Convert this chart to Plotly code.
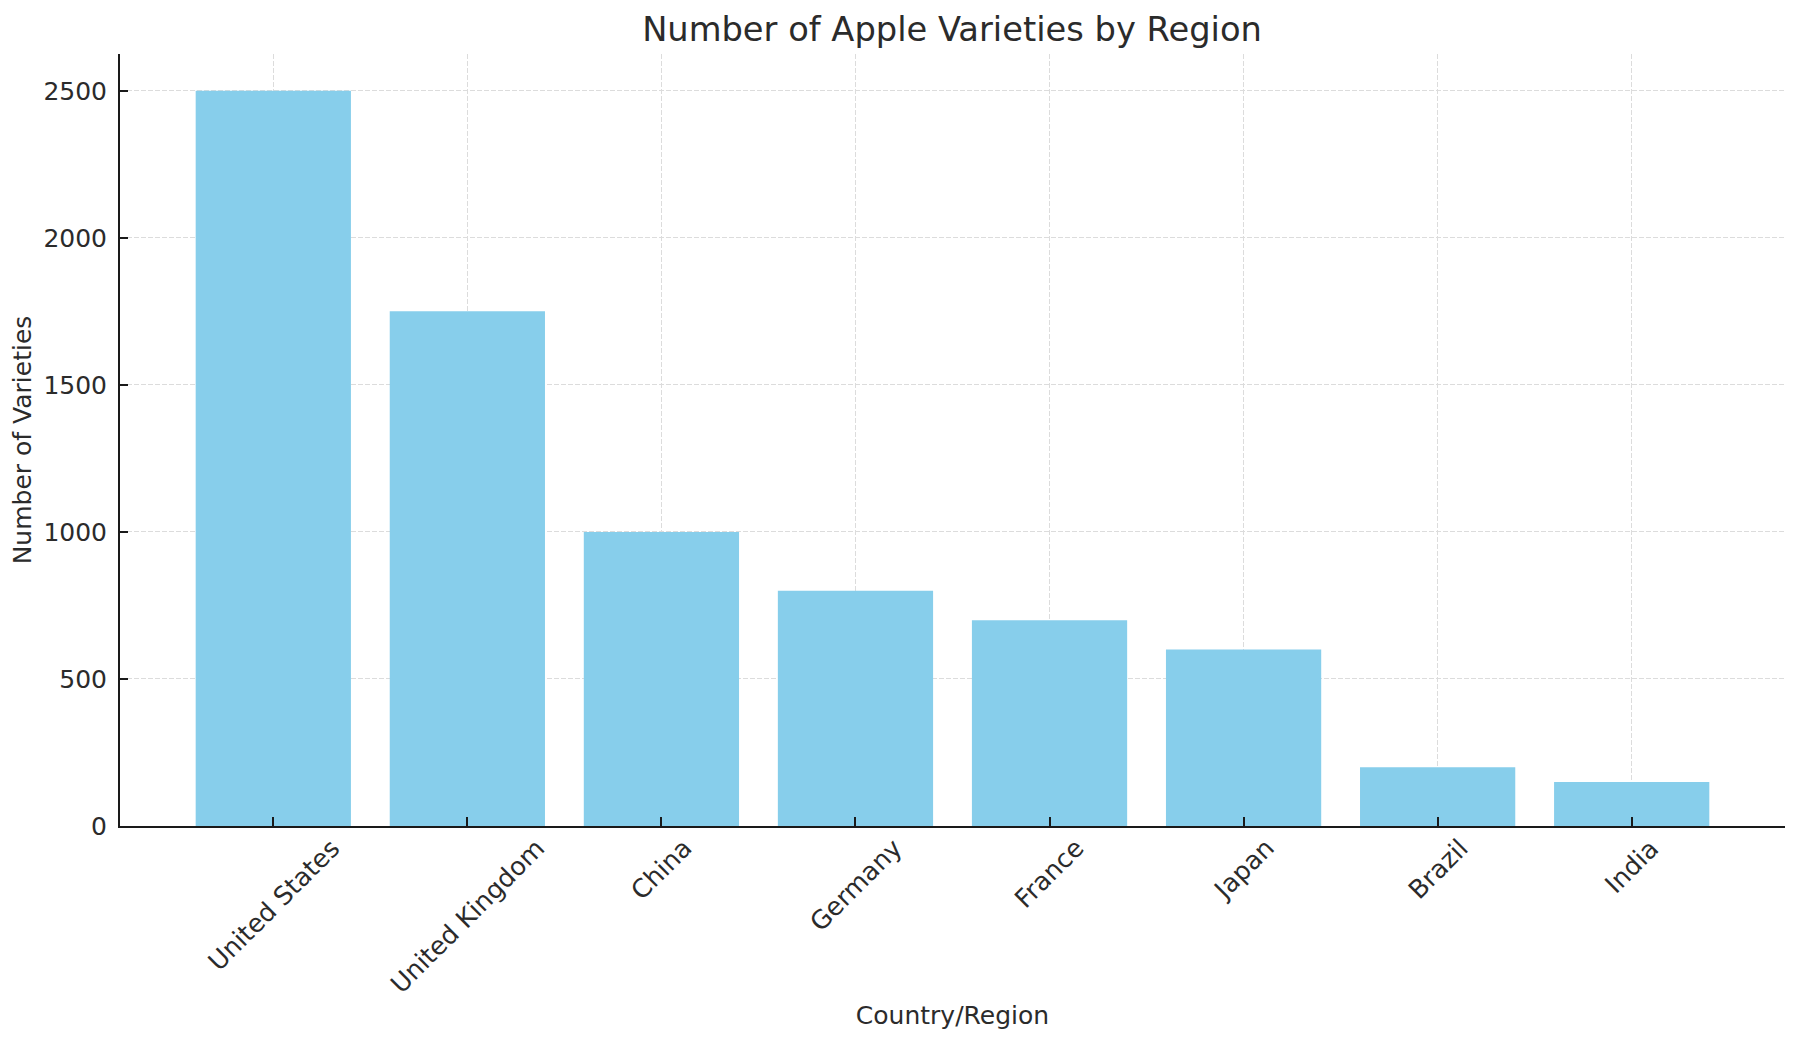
import plotly.graph_objects as go

regions = ["United States", "United Kingdom", "China", "Germany", "France", "Japan", "Brazil", "India"]
varieties = [2500, 1750, 1000, 800, 700, 600, 200, 150]
y_ticks = [0, 500, 1000, 1500, 2000, 2500]

FONT = "DejaVu Sans"
TXT = "#2b2b2b"
W, H = 1783, 1028

fig = go.Figure()
fig.add_trace(go.Bar(x=regions, y=varieties, marker=dict(color="#87CEEB", line=dict(width=0)),
                     width=0.8, hoverinfo="x+y"))

annotations = []
for r in regions:
    annotations.append(dict(x=r, y=0, xref="x", yref="y", text=r, showarrow=False,
                            textangle=-45, xanchor="center", yanchor="top", yshift=-4,
                            font=dict(family=FONT, size=25.5, color=TXT)))

fig.update_layout(
    width=W, height=H,
    margin=dict(l=112, r=6, t=46, b=210),
    paper_bgcolor="white", plot_bgcolor="white",
    showlegend=False,
    title=dict(text="Number of Apple Varieties by Region", x=944 / W, xref="container",
               y=1 - 21 / H, yref="container", xanchor="center", yanchor="middle",
               font=dict(family=FONT, size=33.7, color=TXT)),
    xaxis=dict(type="category", range=[-0.79, 7.79], showticklabels=False,
               showline=True, linecolor="#1a1a1a", linewidth=2,
               ticks="inside", ticklen=9, tickwidth=1.5, tickcolor="#1a1a1a",
               showgrid=True, gridcolor="#dcdcdc", griddash="5px,2px", gridwidth=1,
               layer="above traces", zeroline=False,
               title=dict(text="Country/Region", standoff=179,
                          font=dict(family=FONT, size=25, color=TXT))),
    yaxis=dict(range=[0, 2625], tickvals=y_ticks, ticktext=[str(v) for v in y_ticks],
               showline=True, linecolor="#1a1a1a", linewidth=2,
               ticks="inside", ticklen=8, tickwidth=1.5, tickcolor="#1a1a1a",
               showgrid=True, gridcolor="#dcdcdc", griddash="5px,2px", gridwidth=1,
               zeroline=False, ticklabelstandoff=6,
               tickfont=dict(family=FONT, size=25, color=TXT),
               title=dict(text="Number of Varieties", standoff=12,
                          font=dict(family=FONT, size=25, color=TXT))),
    annotations=annotations,
    bargap=0.2,
)

fig.write_html("out.html")
